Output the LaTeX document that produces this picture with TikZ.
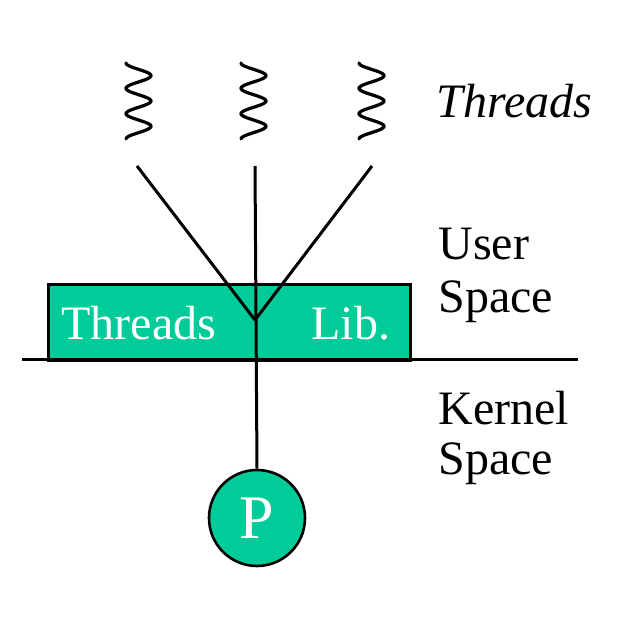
\documentclass[tikz,border=0pt]{standalone}
\usepackage{fontspec}
\setmainfont{Liberation Serif}
\newfontfamily\serifit{Liberation Serif Italic}
\definecolor{libgreen}{RGB}{0,204,153}
\begin{document}
\begin{tikzpicture}[x=1pt,y=-1pt,line width=3pt,
  lbl/.style={inner sep=0pt,anchor=base west},
  wlbl/.style={lbl,text=white},
  squig/.style={line width=3.2pt,line cap=round,smooth,samples=80}]
\useasboundingbox (0,0) rectangle (641,620);
% box and baseline
\node[draw=black,fill=libgreen,minimum width=362pt,minimum height=76pt,anchor=north west,inner sep=0pt,line width=2.6pt] (box) at (47,283) {};
\node[wlbl,font=\fontsize{48}{48}\selectfont] (tl) at (60,340) {Threads};
\node[wlbl,font=\fontsize{48}{48}\selectfont] (lib) at (310,340) {Lib.};
\coordinate (hl) at (22,359.5);
\coordinate (hr) at (578,359.5);
\draw[line width=2.8pt] (hl) -- (hr);
% squiggles
\foreach \cx in {138.5,253.5,371.5}{
  \draw[squig] plot[domain=0:1] ({\cx-12.5*cos(1080*\x)},{63+76*\x});
}
% connectors
\coordinate (t1) at (137,166);
\coordinate (t2) at (255,166);
\coordinate (t3) at (372,166);
\coordinate (j) at (255,320);
\node[circle,draw=black,fill=libgreen,minimum size=96pt,inner sep=0pt,line width=2.6pt,text=white,font=\fontsize{62}{62}\selectfont] (P) at (257,518) {P};
\draw (t1) -- (j);
\draw (t3) -- (j);
\draw (t2) -- (P.north);
% labels
\node[lbl,font=\fontsize{48}{48}\selectfont\itshape] (thr) at (435,118) {Threads};
\node[lbl,font=\fontsize{48}{48}\selectfont] (us1) at (437,260) {User};
\node[lbl,font=\fontsize{48}{48}\selectfont] (us2) at (437,313) {Space};
\node[lbl,font=\fontsize{48}{48}\selectfont] (ks1) at (437,425) {Kernel};
\node[lbl,font=\fontsize{48}{48}\selectfont] (ks2) at (437,475) {Space};
\end{tikzpicture}
\end{document}
